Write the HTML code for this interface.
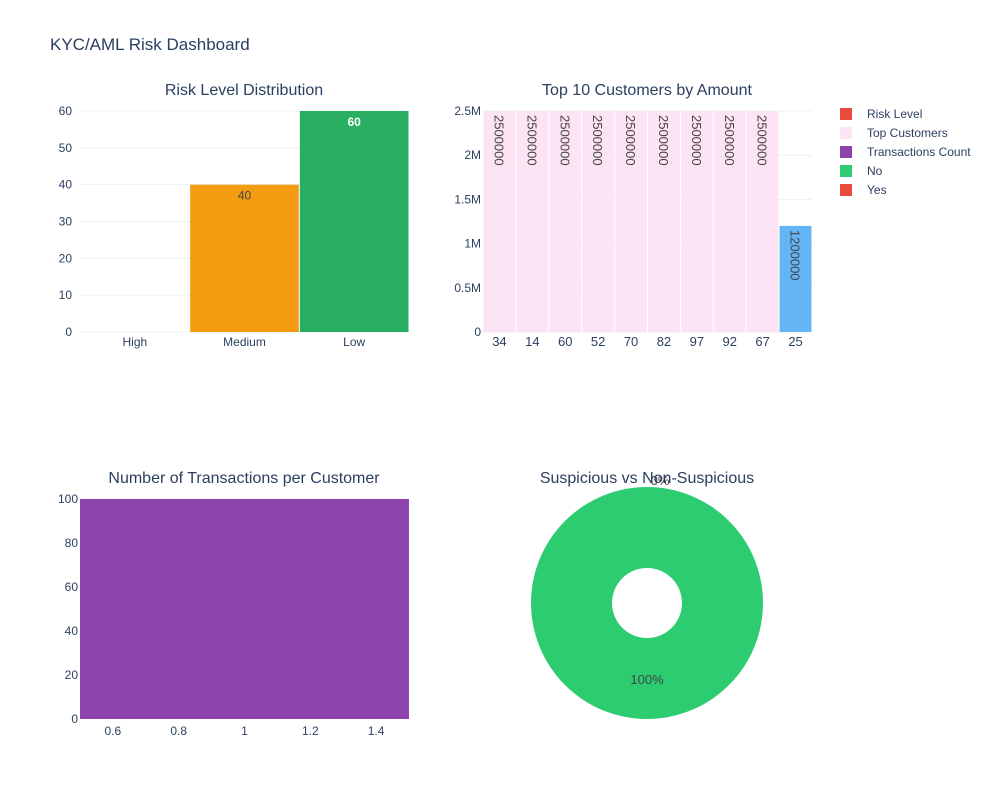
<!DOCTYPE html>
<html><head><meta charset="utf-8"><style>
body{margin:0;background:#fff;font-family:"Liberation Sans",sans-serif}
svg text{font-family:"Liberation Sans",sans-serif}
</style></head><body>
<svg id="c" width="1000" height="800" xmlns="http://www.w3.org/2000/svg">
<text x="50" y="50" font-size="17" fill="#2a3f5f">KYC/AML Risk Dashboard</text>
</svg>
<script>
const riskCats=["High","Medium","Low"];
const riskVals=[0,40,60];
const riskTicks=[0,10,20,30,40,50,60];
const custIds=["34","14","60","52","70","82","97","92","67","25"];
const custAmounts=[2500000,2500000,2500000,2500000,2500000,2500000,2500000,2500000,2500000,1200000];
const amtTicks=[0,500000,1000000,1500000,2000000,2500000];
const amtTickLabels=["0","0.5M","1M","1.5M","2M","2.5M"];
const txX=[1];
const txCounts=[100];
const txYTicks=[0,20,40,60,80,100];
const txXTicks=[0.6,0.8,1,1.2,1.4];
const suspLabels=["No","Yes"];
const suspVals=[100,0];
const legendNames=["Risk Level","Top Customers","Transactions Count","No","Yes"];

const svg=document.getElementById('c');
const NS='http://www.w3.org/2000/svg';
function mk(t,a,p){const e=document.createElementNS(NS,t);for(const k in a)e.setAttribute(k,a[k]);(p||svg).appendChild(e);return e;}
function txt(x,y,s,a){const e=mk('text',Object.assign({x:x,y:y,'font-size':12,fill:'#2a3f5f'},a||{}));e.textContent=s;return e;}

// Chart 1
{const x0=80,x1=409,y0=332,y1=111,max=60;
const ys=v=>y0-(v/max)*(y0-y1);const bw=(x1-x0)/riskCats.length;
txt(244,95,"Risk Level Distribution",{'font-size':16,'text-anchor':'middle'});
riskTicks.forEach(t=>{const g=mk('line',{x1:x0,x2:x1,y1:ys(t),y2:ys(t),stroke:'#ebf0f8'});
const l=txt(x0-8,ys(t)+4,String(t),{'text-anchor':'end'});});
const cols=['#e74c3c','#f39c12','#27ae60'];
riskCats.forEach((c,i)=>{const v=riskVals[i];
const r=mk('rect',{x:x0+i*bw+0.5,y:ys(v),width:bw-1,height:y0-ys(v),fill:cols[i]});

if(v>0){const t=txt(x0+(i+0.5)*bw,ys(v)+15,String(v),{'text-anchor':'middle',fill:i==2?'#fff':'#444','font-weight':i==2?'bold':'normal'});}
const l=txt(x0+(i+0.5)*bw,346,c,{'text-anchor':'middle'});});}

// Chart 2
{const x0=483,x1=812,y0=332,y1=111,max=2500000;
const ys=v=>y0-(v/max)*(y0-y1);const bw=(x1-x0)/custIds.length;
txt(647,95,"Top 10 Customers by Amount",{'font-size':16,'text-anchor':'middle'});
amtTicks.forEach((t,i)=>{const g=mk('line',{x1:x0,x2:x1,y1:ys(t),y2:ys(t),stroke:'#ebf0f8'});
const l=txt(x0-2,ys(t)+4,amtTickLabels[i],{'text-anchor':'end'});});
custIds.forEach((c,i)=>{const v=custAmounts[i];const last=i==custIds.length-1;
const r=mk('rect',{x:x0+i*bw+0.5,y:ys(v),width:bw-1,height:y0-ys(v),fill:last?'#64b5f6':'#fde4f4'});

const cx=x0+(i+0.5)*bw-5,cy=ys(v)+4;
const t=txt(cx,cy,String(v),{'text-anchor':'start','font-size':13,fill:'#444',transform:`rotate(90 ${cx} ${cy})`});
const l=txt(x0+(i+0.5)*bw,346,c,{'text-anchor':'middle','font-size':13});});}

// Chart 3
{const x0=80,x1=409,y0=719,y1=499,ymax=100,xmin=0.5,xmax=1.5;
const ys=v=>y0-(v/ymax)*(y0-y1);const xs=v=>x0+(v-xmin)/(xmax-xmin)*(x1-x0);
txt(244,483,"Number of Transactions per Customer",{'font-size':16,'text-anchor':'middle'});
txX.forEach((x,i)=>{const v=txCounts[i];const r=mk('rect',{x:xs(x-0.5),y:ys(v),width:xs(x+0.5)-xs(x-0.5),height:y0-ys(v),fill:'#8e44ad'});
});
txYTicks.forEach(t=>{const l=txt(x0-2,ys(t)+4,String(t),{'text-anchor':'end'});});
txXTicks.forEach(t=>{const l=txt(xs(t),735,String(t),{'text-anchor':'middle'});});}

// Pie
{const cx=647,cy=603,R=116,r0=35;const tot=suspVals.reduce((a,b)=>a+b,0);const cols=['#2ecc71','#e74c3c'];
let a=0;
suspVals.forEach((v,i)=>{const f=v/tot;
if(f>=0.9999){const p=mk('path',{d:`M${cx-R},${cy}a${R},${R} 0 1,0 ${2*R},0a${R},${R} 0 1,0 ${-2*R},0ZM${cx-r0},${cy}a${r0},${r0} 0 1,1 ${2*r0},0a${r0},${r0} 0 1,1 ${-2*r0},0Z`,fill:cols[i],'fill-rule':'evenodd'});}
else if(f>0){const a2=a+f*2*Math.PI;const P=(rr,t)=>[cx+rr*Math.sin(t),cy-rr*Math.cos(t)];const lg=f>0.5?1:0;
const[p1,p2,p3,p4]=[P(R,a),P(R,a2),P(r0,a2),P(r0,a)];
const p=mk('path',{d:`M${p1}A${R},${R} 0 ${lg},1 ${p2}L${p3}A${r0},${r0} 0 ${lg},0 ${p4}Z`,fill:cols[i]});}
const mid=a+f*Math.PI;const rl=f>=0.9999?76:R+2;
const lx=f>=0.9999?cx:cx+13+rl*Math.sin(mid),ly=f>=0.9999?cy+81:cy-rl*Math.cos(mid);
const t=txt(lx,ly,Math.round(f*100)+'%',{'text-anchor':'middle',fill:'#444','font-size':13});
a+=f*2*Math.PI;});
txt(647,483,"Suspicious vs Non-Suspicious",{'font-size':16,'text-anchor':'middle'});}

// Legend
{const cols=['#e74c3c','#fde4f4','#8e44ad','#2ecc71','#e74c3c'];
legendNames.forEach((n,i)=>{const y=114+i*19;
const r=mk('rect',{x:840,y:y-6,width:12,height:12,fill:cols[i]});
const t=txt(867,y+4,n);});}
</script>
</body></html>
